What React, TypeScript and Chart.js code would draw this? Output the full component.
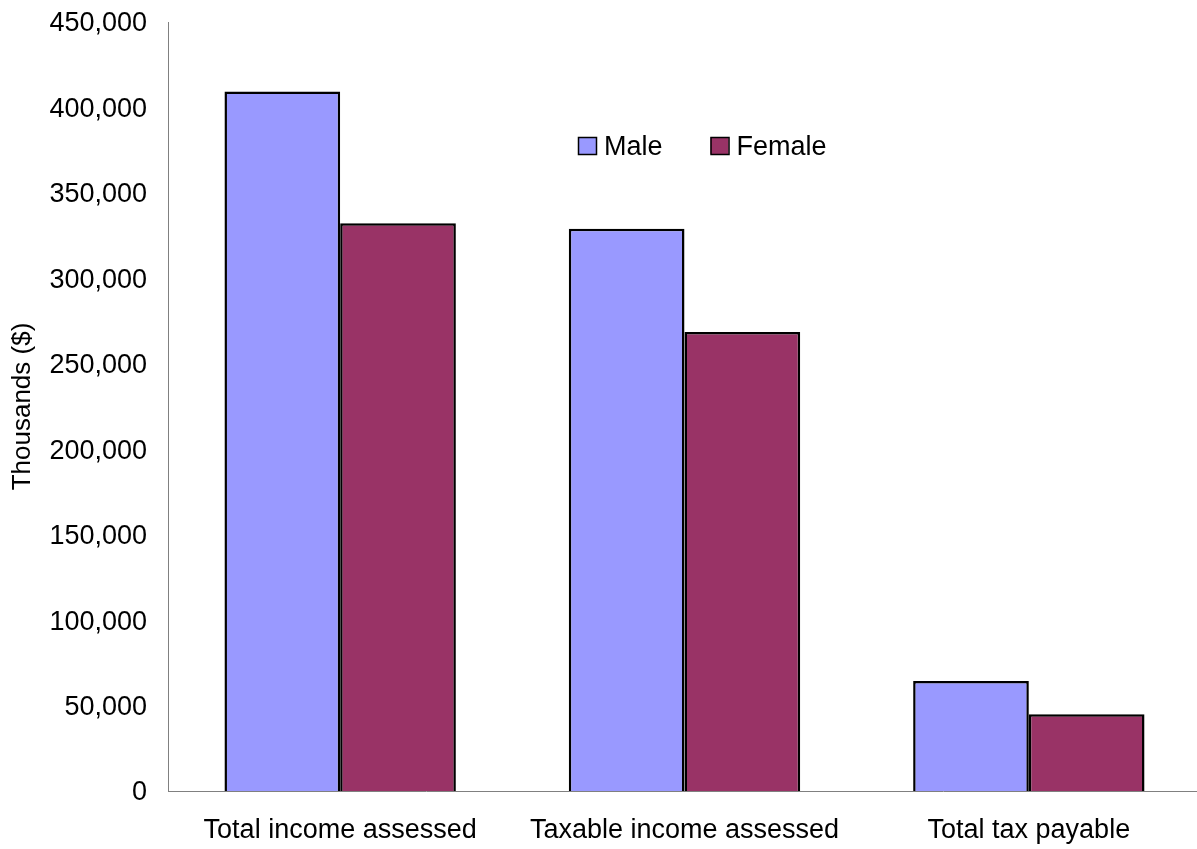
import React, { useEffect, useRef } from "react";
import { Chart, registerables } from "chart.js";

Chart.register(...registerables);

const categories = ["Total income assessed", "Taxable income assessed", "Total tax payable"];
const maleValues = [409400, 329000, 64400];
const femaleValues = [332200, 268600, 44900];
const seriesNames = ["Male", "Female"];
const yTicks = [0, 50000, 100000, 150000, 200000, 250000, 300000, 350000, 400000, 450000];

const FONT = "'Liberation Sans', Arial, Helvetica, sans-serif";
const MALE_COLOR = "#9999FF";
const FEMALE_COLOR = "#993366";

// Legend drawn inside the plot area, to the right of centre.
const innerLegend = {
  id: "innerLegend",
  afterDraw(chart: any) {
    const ctx = chart.ctx;
    ctx.save();
    ctx.font = `27px ${FONT}`;
    ctx.textBaseline = "alphabetic";
    let x = 578;
    const boxTop = 137;
    const boxW = 18;
    const boxH = 17;
    chart.data.datasets.forEach((ds: any) => {
      ctx.fillStyle = ds.backgroundColor;
      ctx.fillRect(x, boxTop, boxW, boxH);
      ctx.strokeStyle = "#000";
      ctx.lineWidth = 1.5;
      ctx.strokeRect(x + 0.5, boxTop + 0.5, boxW, boxH);
      ctx.fillStyle = "#000";
      const tx = x + boxW + 8;
      ctx.fillText(ds.label, tx, 155);
      x = tx + ctx.measureText(ds.label).width + 48;
    });
    ctx.restore();
  },
};

export default function App() {
  const canvasRef = useRef<HTMLCanvasElement | null>(null);

  useEffect(() => {
    const canvas = canvasRef.current;
    if (!canvas) return;
    const chart = new Chart(canvas, {
      type: "bar",
      data: {
        labels: categories,
        datasets: [
          {
            label: seriesNames[0],
            data: maleValues,
            backgroundColor: MALE_COLOR,
            borderColor: "#000000",
            borderWidth: 2.5,
          },
          {
            label: seriesNames[1],
            data: femaleValues,
            backgroundColor: FEMALE_COLOR,
            borderColor: "#000000",
            borderWidth: 2.5,
          },
        ],
      },
      options: {
        responsive: false,
        maintainAspectRatio: false,
        animation: false,
        layout: { padding: { top: 22, right: 0, bottom: 0, left: 0 } },
        datasets: {
          bar: { categoryPercentage: 0.672, barPercentage: 1 },
        },
        plugins: {
          legend: { display: false },
          tooltip: { enabled: false },
        },
        scales: {
          x: {
            grid: { display: false, drawTicks: false },
            border: { display: true, color: "#808080", width: 1 },
            ticks: {
              color: "#000",
              font: { family: FONT, size: 27 },
              padding: 23,
              maxRotation: 0,
              autoSkip: false,
            },
            afterFit(scale: any) {
              scale.height = 58;
              scale.paddingLeft = 0;
              scale.paddingRight = 0;
            },
          },
          y: {
            min: 0,
            max: 450000,
            grid: { display: false, drawTicks: false },
            border: { display: true, color: "#808080", width: 1 },
            afterBuildTicks(scale: any) {
              scale.ticks = yTicks.map((v) => ({ value: v }));
            },
            ticks: {
              color: "#000",
              font: { family: FONT, size: 27 },
              padding: 21,
              labelOffset: 2,
              callback: (v: any) => Number(v).toLocaleString("en-US"),
            },
            title: {
              display: true,
              text: "Thousands ($)",
              color: "#000",
              font: { family: FONT, size: 26 },
              padding: { top: 7, bottom: 0 },
            },
            afterFit(scale: any) {
              scale.width = 168;
              scale.paddingTop = 0;
              scale.paddingBottom = 0;
            },
          },
        },
      },
      plugins: [innerLegend],
    });
    return () => chart.destroy();
  }, []);

  return (
    <div
      style={{
        position: "fixed",
        left: 0,
        top: 0,
        width: 1197,
        height: 849,
        overflow: "hidden",
        background: "#fff",
      }}
    >
      <canvas ref={canvasRef} width={1201} height={849} style={{ display: "block" }} />
    </div>
  );
}
